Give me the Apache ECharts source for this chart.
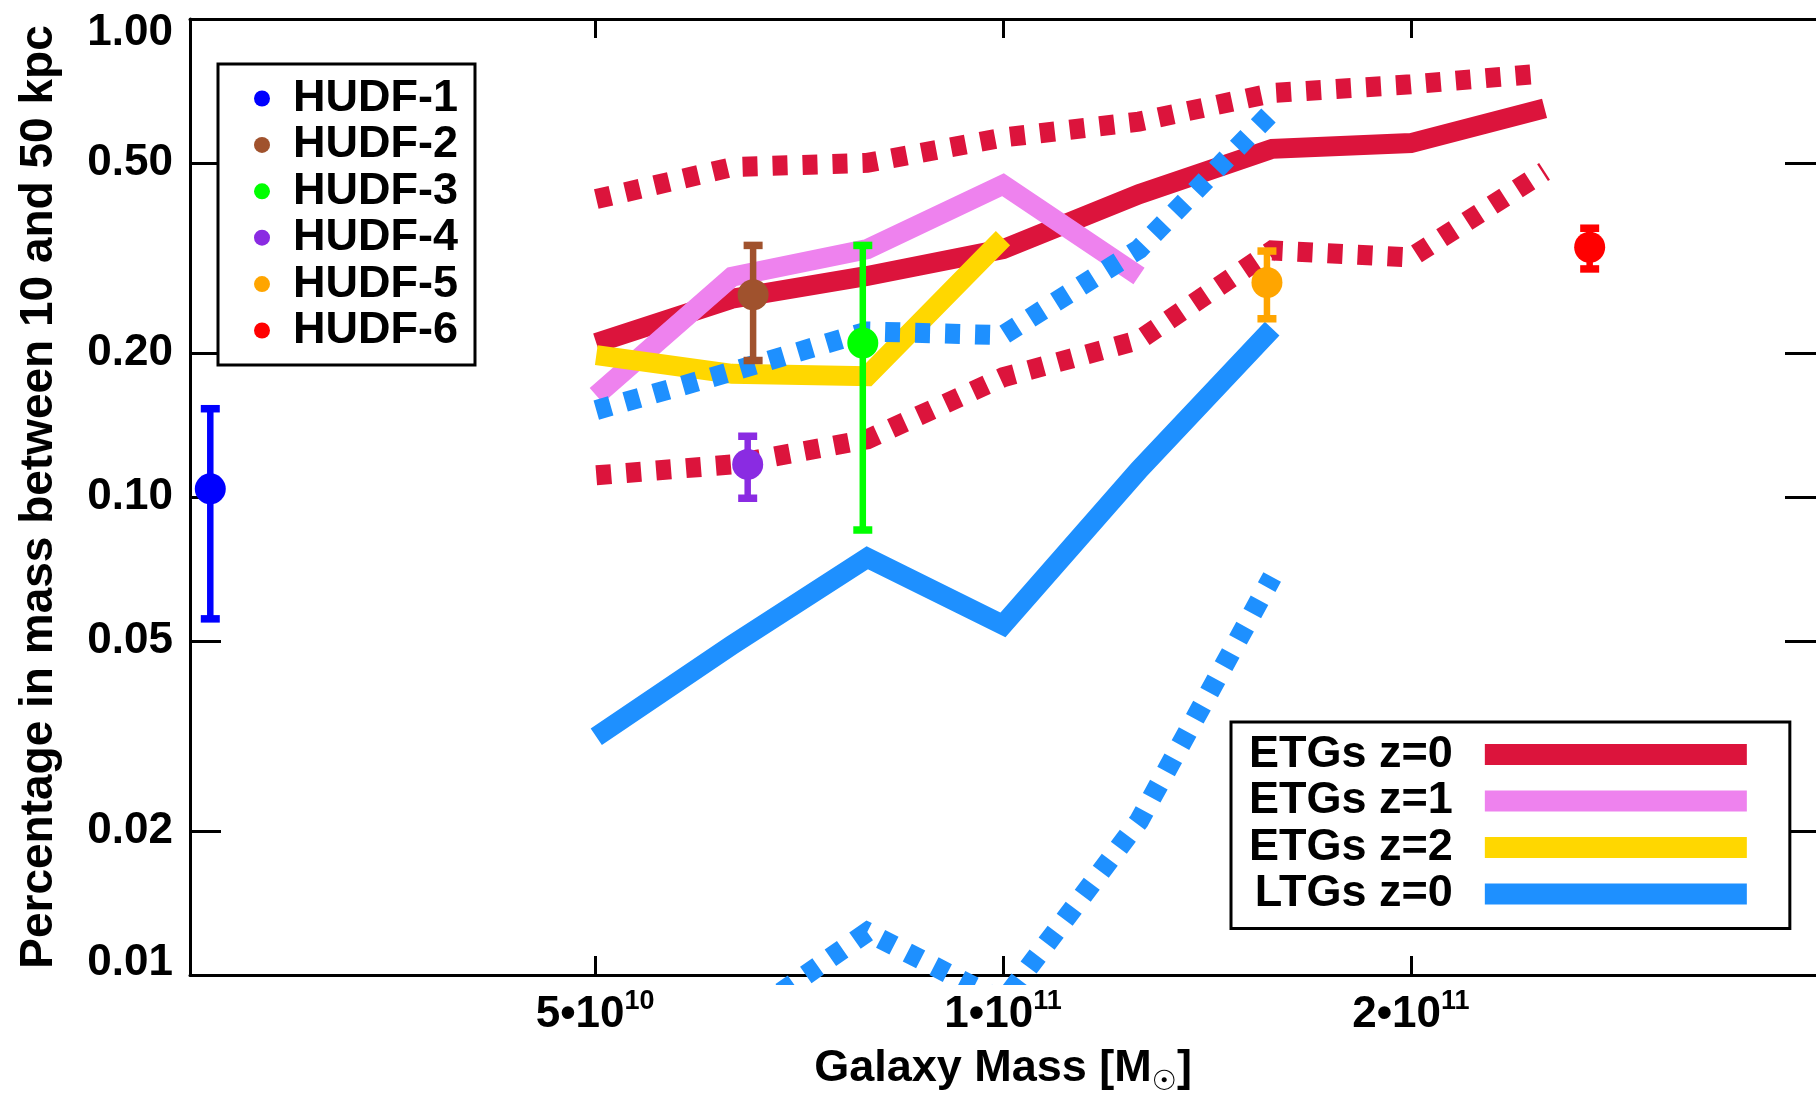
<!DOCTYPE html>
<html>
<head>
<meta charset="utf-8">
<script src="https://cdn.jsdelivr.net/npm/echarts@6/dist/echarts.min.js"></script>
<style>
  html, body { margin: 0; padding: 0; background: #fff; }
  #chart { width: 1816px; height: 1093px; }
</style>
</head>
<body>
<div id="chart"></div>
<script>
// Galaxy mass bins (0.1 dex steps) at which the simulated profiles are sampled
const massBins = [5.01e10, 6.31e10, 7.94e10, 1.0e11, 1.26e11, 1.58e11, 2.0e11, 2.51e11];

// Fraction of mass between 10 and 50 kpc, simulated galaxies
const etg0 = [0.21, 0.26, 0.29, 0.33, 0.43, 0.535, 0.55, 0.65];
const etg0Upper = [0.42, 0.49, 0.50, 0.565, 0.61, 0.70, 0.73, 0.77];
const etg0Lower = [0.111, 0.117, 0.132, 0.178, 0.213, 0.328, 0.317, 0.48];
const etg1 = [0.163, 0.289, 0.33, 0.45, 0.29];
const etg2 = [0.198, 0.181, 0.179, 0.348];
const ltg0 = [0.0315, 0.049, 0.0746, 0.054, 0.114, 0.225];
const ltg0Upper = [0.152, 0.183, 0.222, 0.218, 0.33, 0.64];
const ltg0Lower = [null, 0.0078, 0.0123, 0.0088, 0.021, 0.068];

// Observed HUDF galaxies with uncertainty ranges
const hudfNames = ['HUDF-1', 'HUDF-2', 'HUDF-3', 'HUDF-4', 'HUDF-5', 'HUDF-6'];
const hudfMass = [2.6e10, 6.54e10, 7.88e10, 6.48e10, 1.566e11, 2.71e11];
const hudfFrac = [0.104, 0.265, 0.210, 0.117, 0.281, 0.333];
const hudfLow = [0.0556, 0.193, 0.0853, 0.0994, 0.236, 0.300];
const hudfHigh = [0.153, 0.336, 0.336, 0.134, 0.327, 0.365];

// Axis ticks
const massTicks = [5e10, 1e11, 2e11];
const fracTicks = [0.01, 0.02, 0.05, 0.10, 0.20, 0.50, 1.00];

// ---- styling ----
const FONT = '"Liberation Sans", Arial, Helvetica, sans-serif';
const hudfColors = ['#0000ff', '#a0522d', '#00ff00', '#8a2be2', '#ffa500', '#ff0000'];
const C_ETG0 = '#dc143c', C_ETG1 = '#ee82ee', C_ETG2 = '#ffd700', C_LTG0 = '#1e90ff';
const LINE_W = 20;
const DASH = [15, 15];

const pairs = (vals) => vals.map((v, i) => [massBins[i], v]);

function lineSeries(name, vals, color, dashed) {
  return {
    name: name,
    type: 'line',
    data: pairs(vals),
    color: color,
    symbol: 'none',
    showSymbol: false,
    connectNulls: false,
    clip: true,
    lineStyle: { color: color, width: LINE_W, type: dashed ? DASH : 'solid', cap: 'butt', join: 'miter' },
    emphasis: { disabled: true },
    z: 2
  };
}

function errorBarSeries(i) {
  return {
    name: hudfNames[i],
    type: 'custom',
    color: hudfColors[i],
    itemStyle: { color: hudfColors[i] },
    data: [[hudfMass[i], hudfLow[i], hudfHigh[i]]],
    encode: { x: 0, y: [1, 2] },
    renderItem: function (params, api) {
      const x = api.value(0);
      const pLo = api.coord([x, api.value(1)]);
      const pHi = api.coord([x, api.value(2)]);
      const col = api.visual('color');
      const half = 9.5;
      return {
        type: 'group',
        children: [
          { type: 'line', shape: { x1: pLo[0], y1: pLo[1], x2: pHi[0], y2: pHi[1] },
            style: { stroke: col, lineWidth: 6.5 } },
          { type: 'line', shape: { x1: pLo[0] - half, y1: pLo[1], x2: pLo[0] + half, y2: pLo[1] },
            style: { stroke: col, lineWidth: 7.5 } },
          { type: 'line', shape: { x1: pHi[0] - half, y1: pHi[1], x2: pHi[0] + half, y2: pHi[1] },
            style: { stroke: col, lineWidth: 7.5 } }
        ]
      };
    },
    z: 5
  };
}

function pointSeries(i) {
  return {
    name: hudfNames[i],
    type: 'scatter',
    data: [[hudfMass[i], hudfFrac[i]]],
    symbol: 'circle',
    symbolSize: 31,
    itemStyle: { color: hudfColors[i], opacity: 1 },
    emphasis: { disabled: true },
    z: 6
  };
}

const series = [
  lineSeries('ETGs z=0', etg0, C_ETG0, false),
  lineSeries('ETGs z=0 upper', etg0Upper, C_ETG0, true),
  lineSeries('ETGs z=0 lower', etg0Lower, C_ETG0, true),
  lineSeries('ETGs z=1', etg1, C_ETG1, false),
  lineSeries('ETGs z=2', etg2, C_ETG2, false),
  lineSeries('LTGs z=0', ltg0, C_LTG0, false),
  lineSeries('LTGs z=0 upper', ltg0Upper, C_LTG0, true),
  lineSeries('LTGs z=0 lower', ltg0Lower, C_LTG0, true)
];
hudfNames.forEach((_, i) => series.push(errorBarSeries(i)));
hudfNames.forEach((_, i) => series.push(pointSeries(i)));

const axisLineStyle = { color: '#000', width: 3 };
const massMin = Math.pow(10, 10.4), massMax = Math.pow(10, 11.6);
const fracMin = 0.01, fracMax = 1;

function massLabel(v) {
  const e = Math.floor(Math.log10(v) + 1e-9);
  const m = Math.round(v / Math.pow(10, e));
  return '{b|' + m + '•10}{s|' + e + '}';
}

// end labels are pulled inside the frame
function fracLabel(v) {
  const txt = v.toFixed(2);
  if (Math.abs(v - fracMin) < 1e-9) return '{lo|' + txt + '}';
  if (Math.abs(v - fracMax) < 1e-9) return '{hi|' + txt + '}';
  return txt;
}

const labelFont = { fontFamily: FONT, fontSize: 44, fontWeight: 'bold', color: '#000' };

const option = {
  animation: false,
  backgroundColor: '#fff',
  textStyle: { fontFamily: FONT, fontWeight: 'bold', color: '#000' },
  grid: { left: 190, right: 0, top: 19, bottom: 118, containLabel: false, outerBoundsMode: 'none' },
  xAxis: [
    {
      type: 'log', position: 'bottom', min: massMin, max: massMax,
      name: 'Galaxy Mass [M{sun|☉}]',
      nameLocation: 'middle', nameGap: 66,
      nameTextStyle: {
        fontFamily: FONT, fontSize: 45, fontWeight: 'bold', color: '#000',
        rich: { sun: { fontFamily: '"DejaVu Sans"', fontSize: 28, fontWeight: 'normal', color: '#000', padding: [28, 0, 0, 0] } }
      },
      axisLine: { show: true, lineStyle: axisLineStyle },
      axisTick: { show: true, inside: true, length: 19, lineStyle: { color: '#000', width: 3 }, customValues: massTicks },
      minorTick: { show: false },
      splitLine: { show: false },
      axisLabel: {
        show: true, customValues: massTicks, margin: 13, formatter: massLabel,
        rich: {
          b: labelFont,
          s: { fontFamily: FONT, fontSize: 27, fontWeight: 'bold', color: '#000', padding: [0, 0, 26, 0] }
        }
      }
    },
    {
      type: 'log', position: 'top', min: massMin, max: massMax,
      axisLine: { show: true, lineStyle: axisLineStyle },
      axisTick: { show: true, inside: true, length: 19, lineStyle: { color: '#000', width: 3 }, customValues: massTicks },
      minorTick: { show: false },
      splitLine: { show: false },
      axisLabel: { show: false }
    }
  ],
  yAxis: [
    {
      type: 'log', position: 'left', min: fracMin, max: fracMax,
      name: 'Percentage in mass between 10 and 50 kpc',
      nameLocation: 'middle', nameGap: 128,
      nameTextStyle: { fontFamily: FONT, fontSize: 46, fontWeight: 'bold', color: '#000' },
      axisLine: { show: true, lineStyle: axisLineStyle },
      axisTick: { show: true, inside: true, length: 31, lineStyle: { color: '#000', width: 3 }, customValues: fracTicks },
      minorTick: { show: false },
      splitLine: { show: false },
      axisLabel: {
        show: true, customValues: fracTicks, margin: 17,
        fontFamily: FONT, fontSize: 44, fontWeight: 'bold', color: '#000',
        formatter: fracLabel,
        rich: {
          lo: Object.assign({ padding: [0, 0, 24, 0] }, labelFont),
          hi: Object.assign({ padding: [27, 0, 0, 0] }, labelFont)
        }
      }
    },
    {
      type: 'log', position: 'right', min: fracMin, max: fracMax,
      axisLine: { show: false },
      axisTick: { show: true, inside: true, length: 31, lineStyle: { color: '#000', width: 3 }, customValues: fracTicks },
      minorTick: { show: false },
      splitLine: { show: false },
      axisLabel: { show: false }
    }
  ],
  legend: [
    {
      data: hudfNames.map(n => ({ name: n, icon: 'circle' })),
      orient: 'vertical', left: 218, top: 64,
      align: 'left',
      itemWidth: 16, itemHeight: 16, itemGap: 1.4,
      padding: [12, 17, 12, 36],
      borderColor: '#000', borderWidth: 3, backgroundColor: '#fff',
      selectedMode: false,
      formatter: (n) => '{t|' + n + '}',
      textStyle: {
        fontFamily: FONT, fontSize: 45, fontWeight: 'bold', color: '#000', lineHeight: 44,
        rich: { t: { fontFamily: FONT, fontSize: 45, fontWeight: 'bold', color: '#000', lineHeight: 44, padding: [0, 0, 0, 18] } }
      }
    },
    {
      data: ['ETGs z=0', 'ETGs z=1', 'ETGs z=2', 'LTGs z=0'].map(n => ({ name: n, icon: 'rect' })),
      orient: 'vertical', left: 1231, top: 722,
      align: 'right',
      itemWidth: 262, itemHeight: 21, itemGap: 1.5,
      padding: [10, 43, 12, 18],
      borderColor: '#000', borderWidth: 3, backgroundColor: '#fff',
      selectedMode: false,
      formatter: (n) => '{t|' + n + '}',
      textStyle: {
        fontFamily: FONT, fontSize: 45, fontWeight: 'bold', color: '#000', lineHeight: 44,
        rich: { t: { fontFamily: FONT, fontSize: 45, fontWeight: 'bold', color: '#000', lineHeight: 44, padding: [0, 27, 0, 0] } }
      }
    }
  ],
  series: series
};

const chart = echarts.init(document.getElementById('chart'), null, { renderer: 'canvas' });
chart.setOption(option);
</script>
</body>
</html>
